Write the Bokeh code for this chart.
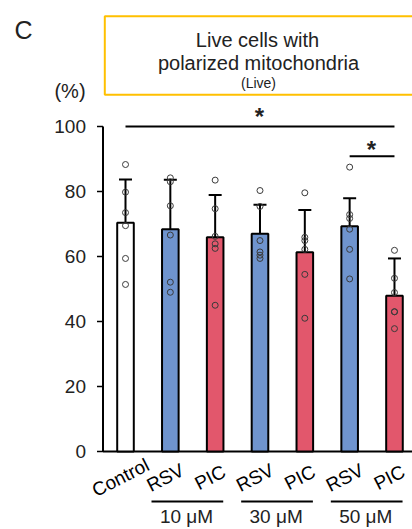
import math
from bokeh.plotting import figure
from bokeh.models import ColumnDataSource, Whisker, TeeHead, Range1d
from bokeh.core.properties import value
from bokeh.embed import file_html
from bokeh.resources import INLINE

# ---- data ----
groups = ["Control", "RSV 10", "PIC 10", "RSV 30", "PIC 30", "RSV 50", "PIC 50"]
tick_labels = ["Control", "RSV", "PIC", "RSV", "PIC", "RSV", "PIC"]
means = [70.4, 68.4, 65.9, 67.0, 61.3, 69.3, 47.9]
sds = [13.3, 15.2, 13.0, 8.9, 13.0, 8.6, 11.5]
points = [
    [88.3, 79.8, 73.5, 69.5, 59.4, 51.4],
    [84.2, 83.0, 75.6, 66.6, 52.1, 49.0],
    [83.5, 74.7, 66.2, 63.9, 62.5, 45.0],
    [80.3, 75.4, 64.9, 61.4, 60.4, 59.4],
    [79.6, 65.9, 64.9, 62.2, 54.5, 41.0],
    [87.5, 72.9, 71.7, 68.4, 62.2, 53.1],
    [61.9, 53.3, 48.9, 43.0, 43.0, 37.8],
]
conc_labels = ["10 μM", "30 μM", "50 μM"]
y_ticks = [0, 20, 40, 60, 80, 100]
y_tick_labels = ["0", "20", "40", "60", "80", "100"]

BLUE = "#6F94CE"
RED = "#E2576C"
colors = ["#FFFFFF", BLUE, RED, BLUE, RED, BLUE, RED]
FONT = "Liberation Sans"
TXT = "#222222"

W, H = 412, 529
# pixel geometry helpers (for annotation placement only)
PX0, PXSTEP = 125.0, 44.83
PY0, PYSCALE = 451.0, 3.25


def X(px):
    return (px - PX0) / PXSTEP


def Y(py):
    return (PY0 - py) / PYSCALE


xs = list(range(len(groups)))

p = figure(width=W, height=H, output_backend="svg", toolbar_location=None,
           x_range=Range1d(X(0), X(W)), y_range=Range1d(Y(H), Y(0)),
           min_border_left=0, min_border_right=0, min_border_top=0, min_border_bottom=0)
p.background_fill_color = "white"
p.border_fill_color = "white"
p.outline_line_color = None
p.xgrid.visible = False
p.ygrid.visible = False
p.xaxis.visible = False
p.yaxis.visible = False

# ---- y axis (drawn through the data scale) ----
ax_x = X(102.5)
p.segment(x0=[ax_x], x1=[ax_x], y0=[y_ticks[0]], y1=[y_ticks[-1]], line_color="black",
          line_width=2)
p.segment(x0=[X(96.5)] * len(y_ticks), x1=[ax_x] * len(y_ticks), y0=y_ticks, y1=y_ticks,
          line_color="black", line_width=1.5)
p.text(x=[X(85.5)] * len(y_ticks), y=y_ticks, text=y_tick_labels, text_align="right",
       text_baseline="middle", text_font=value(FONT), text_font_size="19px",
       text_color=TXT)

# ---- x baseline ----
p.segment(x0=[ax_x], x1=[X(W + 5)], y0=[0], y1=[0], line_color="black", line_width=2)

# ---- bars, error bars, points ----
src = ColumnDataSource(dict(x=xs, top=means, color=colors,
                            upper=[m + s for m, s in zip(means, sds)], lower=means))
p.vbar(x="x", top="top", bottom=0, width=0.37, source=src, fill_color="color",
       line_color="black", line_width=2)

wh = Whisker(base="x", upper="upper", lower="lower", source=src, line_width=2,
             line_color="black",
             upper_head=TeeHead(size=13, line_width=2, line_color="black"),
             lower_head=None)
p.add_layout(wh)

px_, py_ = [], []
for i, vals in enumerate(points):
    for v in vals:
        px_.append(i)
        py_.append(v)
p.scatter(px_, py_, size=6, marker="circle", fill_color=None, line_color="#3a3a3a",
          line_width=1)

# ---- category labels (rotated) ----
p.text(x=[i - 5 / PXSTEP for i in xs], y=[Y(477)] * len(xs), text=tick_labels,
       angle=math.radians(27), text_align="center", text_baseline="middle",
       text_font=value(FONT), text_font_size="19px", text_color="black")

# ---- concentration group lines and labels ----
mids = [(1 + 2) / 2, (3 + 4) / 2, (5 + 6) / 2]
p.segment(x0=[m - 0.12 - 0.8 for m in mids], x1=[m - 0.12 + 0.8 for m in mids],
          y0=[Y(501)] * 3, y1=[Y(501)] * 3, line_color="black", line_width=2)
p.text(x=[m - 0.14 for m in mids], y=[Y(516)] * 3, text=conc_labels,
       text_align="center", text_baseline="middle", text_font=value(FONT),
       text_font_size="19px", text_color=TXT)

# ---- significance ----
p.segment(x0=[0, 5], x1=[6, 6], y0=[100, Y(155.7)], y1=[100, Y(155.7)],
          line_color="black", line_width=2)
p.text(x=[X(259), X(371)], y=[Y(116), Y(149)], text=["*", "*"], text_align="center",
       text_baseline="middle", text_font=value(FONT), text_font_size="24px",
       text_font_style="bold", text_color=TXT)

# ---- title box ----
p.quad(left=[X(104.3)], right=[X(430)], top=[Y(15.7)], bottom=[Y(94.3)],
       fill_color=None, line_color="#FFC000", line_width=2)
p.text(x=[X(257), X(258), X(258)], y=[Y(39), Y(62), Y(82)],
       text=["Live cells with", "polarized mitochondria", "(Live)"],
       text_align="center", text_baseline="middle", text_font=value(FONT),
       text_font_size=["20px", "20px", "14px"], text_color=TXT)

# ---- panel letter and unit ----
p.text(x=[X(23), X(69.5)], y=[Y(29), Y(90)], text=["C", "(%)"], text_align="center",
       text_baseline="middle", text_font=value(FONT),
       text_font_size=["25px", "20px"], text_color=TXT)

open("out.html", "w").write(file_html(p, INLINE))
